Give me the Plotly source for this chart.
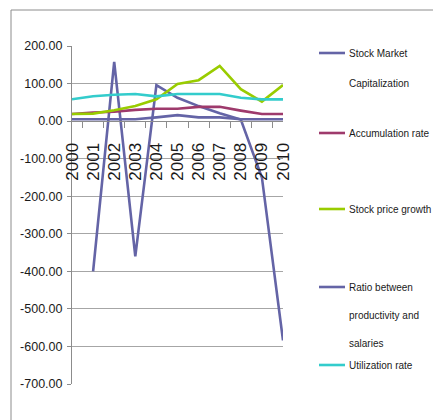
import plotly.graph_objects as go

years = ["2000", "2001", "2002", "2003", "2004", "2005", "2006", "2007", "2008", "2009", "2010"]
stock_market_cap = [None, -400, 158, -360, 96, 62, 40, 21, 4, -150, -584]
accumulation_rate = [19, 23, 25, 30, 33, 33, 38, 38, 28, 19, 19]
stock_price_growth = [19, 20, 29, 40, 58, 99, 109, 147, 85, 52, 96]
ratio_prod_salaries = [5, 5, 5, 5, 10, 16, 10, 10, 5, 5, 5]
utilization_rate = [58, 66, 70, 72, 66, 72, 72, 72, 62, 58, 58]

series_names = ["Stock Market Capitalization", "Accumulation rate", "Stock price growth",
                "Ratio between productivity and salaries", "Utilization rate"]
legend_lines = [["Stock Market", "Capitalization"], ["Accumulation rate"], ["Stock price growth"],
                ["Ratio between", "productivity and", "salaries"], ["Utilization rate"]]
series_values = [stock_market_cap, accumulation_rate, stock_price_growth, ratio_prod_salaries, utilization_rate]
colors = ["#6464A6", "#9E3A6C", "#99CC00", "#6464A6", "#33CCCC"]

y_tick_vals = [200, 100, 0, -100, -200, -300, -400, -500, -600, -700]
y_tick_text = [f"{v:.2f}" for v in y_tick_vals]

OFF = 8  # default body margin of the page
W, H = 441 - OFF, 420 - OFF
# plot area bounds in page pixels
PL, PR, PT, PB = 72, 283, 46, 384
L, R, T, B = PL - OFF, PR - OFF, PT - OFF, PB - OFF

def px_x(px):  # page px -> paper
    return (px - OFF - L) / (R - L)

def px_y(py):
    return (B - (py - OFF)) / (B - T)

FONT = "Liberation Sans, Arial, sans-serif"
TXT = "#1a1a1a"

fig = go.Figure()
for name, vals, col in zip(series_names, series_values, colors):
    fig.add_trace(go.Scatter(x=years, y=vals, name=name, mode="lines",
                             line=dict(color=col, width=2.6), showlegend=False,
                             connectgaps=False))

ymin, ymax = -700, 200
fig.update_layout(
    width=W, height=H,
    margin=dict(l=L, r=W - R, t=T, b=H - B, pad=0),
    paper_bgcolor="white", plot_bgcolor="white",
    font=dict(family=FONT, size=12, color=TXT),
    xaxis=dict(type="category", anchor="free", position=(0 - ymin) / (ymax - ymin),
               tickmode="array", tickvals=years, ticktext=years,
               showline=True, linecolor="#8c8c8c", linewidth=1,
               ticks="outside", ticklen=6, tickcolor="#8c8c8c", tickson="boundaries",
               tickangle=-90, showgrid=False, zeroline=False,
               tickfont=dict(family=FONT, size=17, color=TXT),
               ticklabelstandoff=14),
    yaxis=dict(range=[ymin, ymax], tickmode="array", tickvals=y_tick_vals, ticktext=y_tick_text,
               showline=True, linecolor="#8c8c8c", linewidth=1,
               ticks="outside", ticklen=4, tickcolor="#8c8c8c",
               showgrid=True, gridcolor="#a6a6a6", gridwidth=1, zeroline=False,
               tickfont=dict(family=FONT, size=12.5, color=TXT),
               ticklabelstandoff=2),
)

# outer chart border
fig.add_shape(type="rect", xref="paper", yref="paper",
              x0=px_x(11), x1=px_x(470), y0=px_y(450), y1=px_y(10),
              line=dict(color="#8c8c8c", width=1), fillcolor="rgba(0,0,0,0)", layer="below")

# legend (manual, to mimic the wide line spacing)
entry_y = [[53, 83], [133], [209], [287, 315, 343], [365]]
for lines, ys, col in zip(legend_lines, entry_y, colors):
    fig.add_shape(type="line", xref="paper", yref="paper",
                  x0=px_x(319), x1=px_x(345), y0=px_y(ys[0]), y1=px_y(ys[0]),
                  line=dict(color=col, width=2.6))
    for txt, yy in zip(lines, ys):
        fig.add_annotation(text=txt, xref="paper", yref="paper", x=px_x(347), y=px_y(yy),
                           xanchor="left", yanchor="middle", showarrow=False,
                           font=dict(family=FONT, size=10, color=TXT))

fig.write_html("out.html")
